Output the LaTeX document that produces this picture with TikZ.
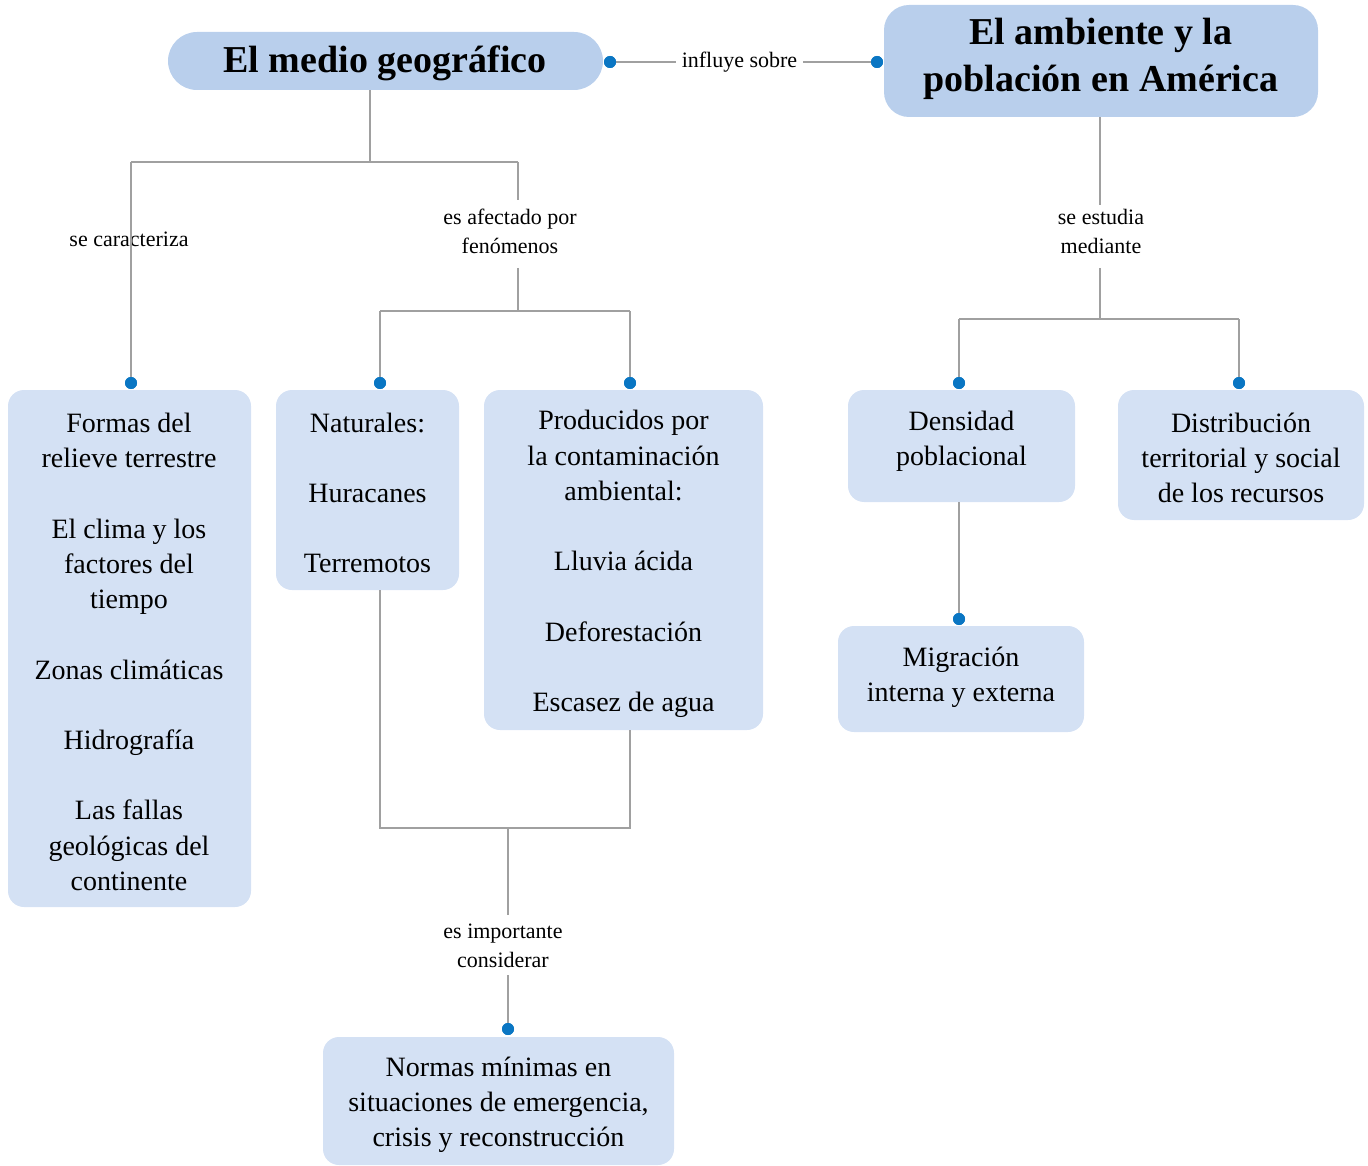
\documentclass[tikz,border=0pt]{standalone}
\usepackage{fontspec}
\setmainfont{Liberation Serif}
\usetikzlibrary{calc}
\definecolor{titlefill}{HTML}{B9CFEC}
\definecolor{boxfill}{HTML}{D4E1F4}
\definecolor{dotblue}{HTML}{0A76C3}
\definecolor{linegray}{HTML}{A0A0A0}
\tikzset{
 box/.style={fill=boxfill, draw=none, rounded corners=16pt, inner sep=0pt},
 tbox/.style={fill=titlefill, draw=none, inner sep=0pt},
 txt/.style={align=center, inner sep=0pt, font=\fontsize{28}{35.2}\selectfont},
 ttl/.style={align=center, inner sep=0pt, font=\fontsize{38}{47}\selectfont\bfseries},
 lbl/.style={align=center, inner sep=0pt, font=\fontsize{22}{29}\selectfont},
 conn/.style={draw=linegray, line width=1.3pt},
 dotc/.style={circle, fill=dotblue, inner sep=0pt, minimum size=12pt},
}
\begin{document}
\begin{tikzpicture}[x=1pt,y=-1pt]
\useasboundingbox (0,0) rectangle (1368,1166);
% ---------- boxes ----------
\node[tbox, rounded corners=29pt, minimum width=435pt, minimum height=58pt] (t1) at (385.5,61) {};
\node[tbox, rounded corners=25pt, minimum width=434pt, minimum height=112pt] (t2) at (1101,61) {};
\node[box, minimum width=243pt, minimum height=517pt] (fm) at (129.5,648.5) {};
\node[box, minimum width=183pt, minimum height=200pt] (nat) at (367.5,490) {};
\node[box, minimum width=279pt, minimum height=340pt] (prod) at (623.5,560) {};
\node[box, minimum width=227pt, minimum height=112pt] (dens) at (961.5,446) {};
\node[box, minimum width=246pt, minimum height=130pt] (distr) at (1241,455) {};
\node[box, minimum width=246pt, minimum height=106pt] (migr) at (961,679) {};
\node[box, minimum width=351pt, minimum height=128pt] (norm) at (498.5,1101) {};
% ---------- texts ----------
\node[ttl] (t1t) at (385,63) {El medio geográfico};
\node[ttl] (t2t) at (1101,59) {El ambiente y la\\población en América};
\node[txt] (fmt) at (129,652) {Formas del\\relieve terrestre\\[35.2pt]El clima y los\\factores del\\tiempo\\[35.2pt]Zonas climáticas\\[35.2pt]Hidrografía\\[35.2pt]Las fallas\\geológicas del\\continente};
\node[txt] (natt) at (367.5,493) {Naturales:\\[35.2pt]Huracanes\\[35.2pt]Terremotos};
\node[txt] (prodt) at (623.5,564) {Producidos por\\la contaminación\\ambiental:\\[35.2pt]Lluvia ácida\\[35.2pt]Deforestación\\[35.2pt]Escasez de agua};
\node[txt] (denst) at (961.5,441) {Densidad\\poblacional};
\node[txt] (distrt) at (1241,458) {Distribución\\territorial y social\\de los recursos};
\node[txt] (migrt) at (961,677) {Migración\\interna y externa};
\node[txt] (normt) at (498.5,1105) {Normas mínimas en\\situaciones de emergencia,\\crisis y reconstrucción};
% ---------- labels ----------
\node[lbl] (inf) at (739.5,62) {influye sobre};
\node[lbl] (car) at (129,239) {se caracteriza};
\node[lbl] (afe) at (510,231) {es afectado por\\fenómenos};
\node[lbl] (imp) at (503,946) {es importante\\considerar};
\node[lbl] (est) at (1101,231) {se estudia\\mediante};
% ---------- junction coordinates ----------
\coordinate (j1) at (370,162);
\coordinate (jl) at (131,162);
\coordinate (jr) at (518,162);
\coordinate (afa) at (518,200);
\coordinate (afb) at (518,268);
\coordinate (j2) at (518,311);
\coordinate (j2l) at (380,311);
\coordinate (j2r) at (630,311);
\coordinate (j3l) at (380,828);
\coordinate (j3r) at (630,828);
\coordinate (j3) at (508,828);
\coordinate (ima) at (508,915);
\coordinate (imb) at (508,975);
\coordinate (esa) at (1100,205);
\coordinate (esb) at (1100,268);
\coordinate (j4) at (1100,319);
\coordinate (j4l) at (959,319);
\coordinate (j4r) at (1239,319);
% ---------- dots ----------
\node[dotc] (d1) at (610,62) {};
\node[dotc] (d2) at (877,62) {};
\node[dotc] (dfm) at (131,383) {};
\node[dotc] (dnat) at (380,383) {};
\node[dotc] (dprod) at (630,383) {};
\node[dotc] (ddens) at (959,383) {};
\node[dotc] (ddistr) at (1239,383) {};
\node[dotc] (dmigr) at (959,619) {};
\node[dotc] (dnorm) at (508,1029) {};
% ---------- connectors ----------
\draw[conn] (d1) -- ($(inf.west)+(-6,0)$);
\draw[conn] ($(inf.east)+(6,0)$) -- (d2);
\draw[conn] (t1.south -| j1) -- (j1);
\draw[conn] (jl) -- (jr);
\draw[conn] (jl) -- (dfm);
\draw[conn] (jr) -- (afa);
\draw[conn] (afb) -- (j2);
\draw[conn] (j2l) -- (j2r);
\draw[conn] (j2l) -- (dnat);
\draw[conn] (j2r) -- (dprod);
\draw[conn] (nat.south -| j3l) -- (j3l) -- (j3r) -- (prod.south -| j3r);
\draw[conn] (j3) -- (ima);
\draw[conn] (imb) -- (dnorm);
\draw[conn] (t2.south -| esa) -- (esa);
\draw[conn] (esb) -- (j4);
\draw[conn] (j4l) -- (j4r);
\draw[conn] (j4l) -- (ddens);
\draw[conn] (j4r) -- (ddistr);
\draw[conn] (dens.south -| dmigr) -- (dmigr);
% dots on top
\foreach \d in {d1,d2,dfm,dnat,dprod,ddens,ddistr,dmigr,dnorm}
  \fill[dotblue] (\d.center) circle (6pt);
\end{tikzpicture}
\end{document}
